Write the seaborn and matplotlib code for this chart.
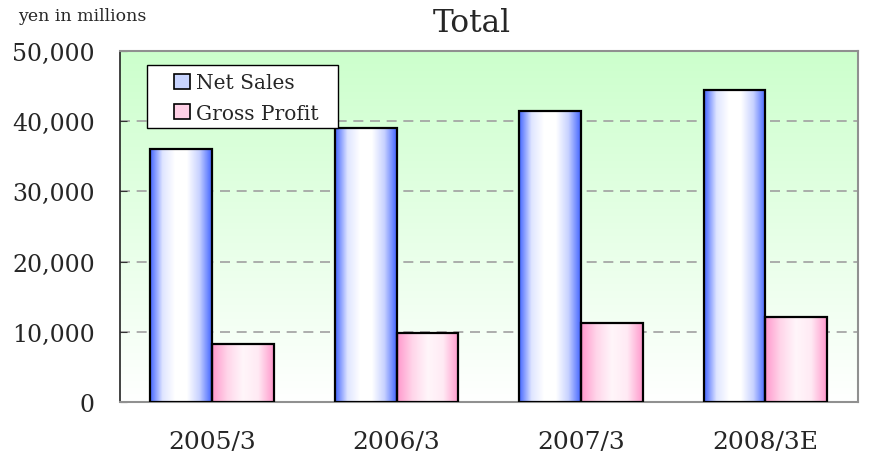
import numpy as np
import pandas as pd
import seaborn as sns
import matplotlib.pyplot as plt
from matplotlib.colors import LinearSegmentedColormap
from matplotlib.patches import Patch, Rectangle
from matplotlib.ticker import FuncFormatter

periods = ["2005/3", "2006/3", "2007/3", "2008/3E"]
net_sales = [36000, 39000, 41500, 44500]
gross_profit = [8300, 9900, 11300, 12100]
series_names = ["Net Sales", "Gross Profit"]

df = pd.DataFrame({
    "period": periods * 2,
    "value": net_sales + gross_profit,
    "series": [series_names[0]] * 4 + [series_names[1]] * 4,
})

sns.set_style("white")
plt.rcParams['font.family'] = ['DejaVu Serif']

fig = plt.figure(figsize=(8.69, 4.56), dpi=100)
ax = fig.add_axes([0.138, 0.116, 0.849, 0.77])

sns.barplot(data=df, x="period", y="value", hue="series", palette=["#5577ff", "#ff99cc"],
            width=0.67, edgecolor="black", linewidth=1.6, ax=ax, legend=False, zorder=3)

# gradient fills for the bars
blue_cmap = LinearSegmentedColormap.from_list("b", ["#4466ff", "#dfe5ff", "#ffffff", "#ffffff", "#c8d2ff", "#4466ff"])
pink_cmap = LinearSegmentedColormap.from_list("p", ["#ff99cc", "#ffd6ea", "#fff6fa", "#ffeaf4", "#ff99cc"])
grad = np.linspace(0, 1, 128).reshape(1, -1)
for i, p in enumerate(ax.patches):
    x, y, w, h = p.get_x(), p.get_y(), p.get_width(), p.get_height()
    cmap = blue_cmap if i < len(periods) else pink_cmap
    ax.imshow(grad, extent=[x, x + w, y, y + h], aspect='auto', cmap=cmap, zorder=2.9)
    p.set_facecolor("none")

# background gradient
bg_cmap = LinearSegmentedColormap.from_list("bg", ["#ffffff", "#ccffcc"])
ax.imshow(np.linspace(0, 1, 256).reshape(-1, 1), extent=[0, 1, 0, 1], transform=ax.transAxes,
          origin='lower', aspect='auto', cmap=bg_cmap, zorder=0)

ax.set_xlim(-0.5, 3.5)
ax.set_ylim(0, 50000)
ax.set_yticks(range(0, 50001, 10000))
ax.yaxis.set_major_formatter(FuncFormatter(lambda v, _: f"{int(v):,}"))
ax.yaxis.grid(True, linestyle=(0, (6, 4)), color="#a0a0a0", linewidth=1.2)
ax.set_axisbelow(True)
ax.tick_params(axis='y', direction='in', length=5, left=True, labelsize=17, pad=18, color="#333333")
ax.tick_params(axis='x', length=0, labelsize=18, pad=20)
ax.set_xlabel("")
ax.set_ylabel("")

for side in ["top", "right", "bottom"]:
    ax.spines[side].set_color("#909090")
    ax.spines[side].set_linewidth(1.5)
ax.spines["left"].set_color("#222222")
ax.spines["left"].set_linewidth(1.2)

# legend: white box drawn separately, entries on top
ax.add_patch(Rectangle((0.0366, 0.7806), 0.2588, 0.1794, transform=ax.transAxes,
                       facecolor="white", edgecolor="black", linewidth=1.0, zorder=4))
handles = [Patch(facecolor="#c8d4ff", edgecolor="black", linewidth=1.2),
           Patch(facecolor="#ffd0e6", edgecolor="black", linewidth=1.2)]
leg = ax.legend(handles, series_names, loc="upper left", bbox_to_anchor=(0.0732, 0.936),
                fontsize=14.5, frameon=False,
                handlelength=0.8, handleheight=0.8, handletextpad=0.3,
                borderpad=0, labelspacing=0.55, borderaxespad=0)
leg.set_zorder(5)

fig.text(0.543, 0.949, "Total", ha="center", va="center", fontsize=22.5)
fig.text(0.021, 0.963, "yen in millions", ha="left", va="center", fontsize=12.5)

plt.savefig("out.png", dpi=100)
